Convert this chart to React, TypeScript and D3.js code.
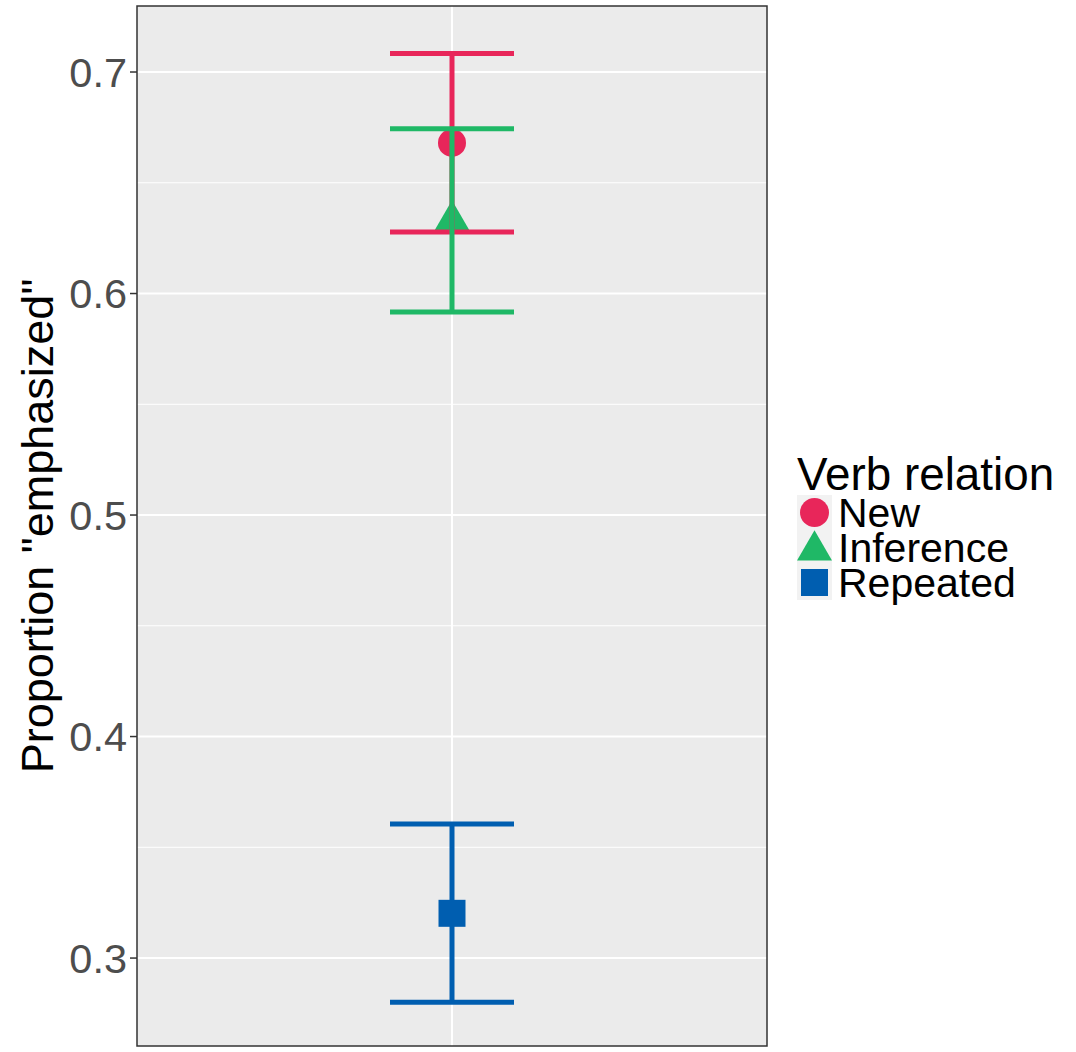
import React, { useRef, useEffect } from 'react';
import * as d3 from 'd3';

// --- Data ---
const groups = ['New', 'Inference', 'Repeated'];
const means = [0.668, 0.633, 0.3202];
const lower = [0.6278, 0.5917, 0.2801];
const upper = [0.7084, 0.6744, 0.3605];
const colors = ['#E8265A', '#1FB866', '#005EB0'];
const shapes = ['circle', 'triangle', 'square'];
const yTicks = [0.3, 0.4, 0.5, 0.6, 0.7];
const yMinor = [0.35, 0.45, 0.55, 0.65];

const FONT = '"Liberation Sans", Arial, Helvetica, sans-serif';

// R-style shape path centred on (0,0)
const shapePath = (shape: string, size: number) => {
  if (shape === 'circle') {
    const r = size / 2;
    return `M${-r},0A${r},${r} 0 1,0 ${r},0A${r},${r} 0 1,0 ${-r},0Z`;
  }
  if (shape === 'triangle') {
    // centroid-centred equilateral triangle, size = base width
    const h = (size * Math.sqrt(3)) / 2;
    return `M0,${(-2 * h) / 3}L${size / 2},${h / 3}L${-size / 2},${h / 3}Z`;
  }
  const s = size / 2;
  return `M${-s},${-s}H${s}V${s}H${-s}Z`;
};

const markSize: Record<string, number> = { circle: 28, triangle: 35, square: 27 };

const Chart = () => {
  const svgRef = useRef<SVGSVGElement>(null);

  useEffect(() => {
    const width = 1076;
    const height = 1052;
    const panel = { left: 137, right: 767, top: 6, bottom: 1046 };

    const svg = d3.select(svgRef.current).attr('width', width).attr('height', height).html('');

    // --- Scales ---
    const y = d3.scaleLinear().domain([0.2603, 0.7298]).range([panel.bottom, panel.top]);
    const x = d3.scalePoint().domain(['all']).range([panel.left, panel.right]).padding(0.5);
    const cx = x('all') as number;
    const capHalf = 62;

    // Panel background
    svg.append('rect')
      .attr('x', panel.left)
      .attr('y', panel.top)
      .attr('width', panel.right - panel.left)
      .attr('height', panel.bottom - panel.top)
      .attr('fill', '#EBEBEB');

    // Minor grid
    svg.selectAll('.minor')
      .data(yMinor)
      .enter()
      .append('line')
      .attr('x1', panel.left)
      .attr('x2', panel.right)
      .attr('y1', d => y(d))
      .attr('y2', d => y(d))
      .attr('stroke', '#fff')
      .attr('stroke-width', 1);

    // Major grid
    svg.selectAll('.major')
      .data(yTicks)
      .enter()
      .append('line')
      .attr('x1', panel.left)
      .attr('x2', panel.right)
      .attr('y1', d => y(d))
      .attr('y2', d => y(d))
      .attr('stroke', '#fff')
      .attr('stroke-width', 2);

    svg.append('line')
      .attr('x1', cx)
      .attr('x2', cx)
      .attr('y1', panel.top)
      .attr('y2', panel.bottom)
      .attr('stroke', '#fff')
      .attr('stroke-width', 2);

    // --- Points (drawn under the error bars) ---
    groups.forEach((g, i) => {
      svg.append('path')
        .attr('d', shapePath(shapes[i], markSize[shapes[i]]))
        .attr('transform', `translate(${cx},${y(means[i])})`)
        .attr('fill', colors[i]);
    });

    // --- Error bars ---
    groups.forEach((g, i) => {
      const eb = svg.append('g').attr('stroke', colors[i]).attr('stroke-width', 5).attr('fill', 'none');
      eb.append('line').attr('x1', cx).attr('x2', cx).attr('y1', y(upper[i])).attr('y2', y(lower[i]));
      eb.append('line').attr('x1', cx - capHalf).attr('x2', cx + capHalf).attr('y1', y(upper[i])).attr('y2', y(upper[i]));
      eb.append('line').attr('x1', cx - capHalf).attr('x2', cx + capHalf).attr('y1', y(lower[i])).attr('y2', y(lower[i]));
    });

    // Panel border
    svg.append('rect')
      .attr('x', panel.left)
      .attr('y', panel.top)
      .attr('width', panel.right - panel.left)
      .attr('height', panel.bottom - panel.top)
      .attr('fill', 'none')
      .attr('stroke', '#333')
      .attr('stroke-width', 1.5);

    // --- Y axis ---
    const ax = svg.append('g');
    ax.selectAll('line')
      .data(yTicks)
      .enter()
      .append('line')
      .attr('x1', panel.left - 7)
      .attr('x2', panel.left)
      .attr('y1', d => y(d))
      .attr('y2', d => y(d))
      .attr('stroke', '#333')
      .attr('stroke-width', 1.5);
    ax.selectAll('text')
      .data(yTicks)
      .enter()
      .append('text')
      .attr('x', panel.left - 10)
      .attr('y', d => y(d))
      .attr('dy', '0.36em')
      .attr('text-anchor', 'end')
      .attr('font-family', FONT)
      .attr('font-size', 41.5)
      .attr('fill', '#4D4D4D')
      .text(d => d3.format('.1f')(d));

    svg.append('text')
      .attr('transform', `translate(53,${(panel.top + panel.bottom) / 2}) rotate(-90)`)
      .attr('text-anchor', 'middle')
      .attr('font-family', FONT)
      .attr('font-size', 45)
      .attr('fill', '#000')
      .text('Proportion "emphasized"');

    // --- Legend ---
    const lg = svg.append('g').attr('transform', 'translate(797,0)');
    lg.append('text')
      .attr('x', 0)
      .attr('y', 490)
      .attr('font-family', FONT)
      .attr('font-size', 45.8)
      .attr('fill', '#000')
      .text('Verb relation');
    groups.forEach((g, i) => {
      const top = 495 + i * 35;
      lg.append('rect')
        .attr('x', 0)
        .attr('y', top)
        .attr('width', 35)
        .attr('height', 35)
        .attr('fill', '#F2F2F2');
      lg.append('path')
        .attr('d', shapePath(shapes[i], markSize[shapes[i]] + (shapes[i] === 'circle' ? 1 : 0)))
        .attr('transform', `translate(17.5,${top + 17.5 + (shapes[i] === 'triangle' ? 3 : 0)})`)
        .attr('fill', colors[i]);
      lg.append('text')
        .attr('x', 41)
        .attr('y', top + 32)
        .attr('font-family', FONT)
        .attr('font-size', 41)
        .attr('fill', '#000')
        .text(g);
    });
  }, []);

  return <svg ref={svgRef} style={{ position: 'absolute', left: 0, top: 0, background: '#fff' }}></svg>;
};

export default function App() {
  return <Chart />;
}
